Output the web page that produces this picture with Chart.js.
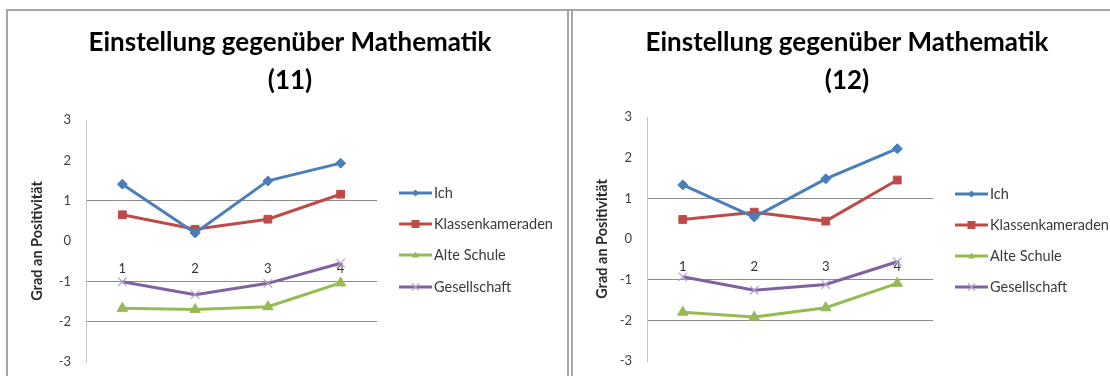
<!DOCTYPE html>
<html>
<head>
<meta charset="utf-8">
<script src="https://cdn.jsdelivr.net/npm/chart.js@4.4.1/dist/chart.umd.min.js"></script>
<style>
  html, body { margin: 0; padding: 0; background: #ffffff; }
  body { width: 1110px; height: 376px; position: relative; overflow: hidden; }
  .wrap { position: absolute; top: 0; height: 386px; }
  #w1 { left: 0; width: 568px; }
  #w2 { left: 568px; width: 542px; }
  .line { position: absolute; background: #a6a6a6; }
</style>
</head>
<body>
<div class="wrap" id="w1"><canvas id="c1" width="568" height="386"></canvas></div>
<div class="wrap" id="w2"><canvas id="c2" width="542" height="386"></canvas></div>
<div class="line" style="left:6px; top:9px; width:1104px; height:2px;"></div>
<div class="line" style="left:6px; top:9px; width:2px; height:367px;"></div>
<div class="line" style="left:567px; top:9px; width:2px; height:367px;"></div>
<div class="line" style="left:571px; top:9px; width:2px; height:367px;"></div>
<script>
// ---- data ----
const categories = ['1', '2', '3', '4'];
const seriesNames = ['Ich', 'Klassenkameraden', 'Alte Schule', 'Gesellschaft'];
const yTickValues = [-3, -2, -1, 0, 1, 2, 3];
const gridValues = [1, -1, -2];

const ich11 = [1.41, 0.20, 1.49, 1.93];
const klassen11 = [0.65, 0.29, 0.54, 1.16];
const alte11 = [-1.67, -1.70, -1.63, -1.04];
const gesell11 = [-1.01, -1.33, -1.05, -0.55];

const ich12 = [1.33, 0.54, 1.48, 2.22];
const klassen12 = [0.48, 0.66, 0.44, 1.45];
const alte12 = [-1.80, -1.92, -1.69, -1.09];
const gesell12 = [-0.93, -1.26, -1.12, -0.56];

const title1 = ['Einstellung gegenüber Mathematik', '(11)'];
const title2 = ['Einstellung gegenüber Mathematik', '(12)'];
const yTitle = 'Grad an Positivität';

// ---- styles ----
const FONT = 'Lato, "Open Sans", "DejaVu Sans", sans-serif';
const styles = [
  { color: '#4a7ebb', pointColor: '#4a7ebb', pointStyle: 'rectRot', radius: 5, pbw: 1 },
  { color: '#be4b48', pointColor: '#be4b48', pointStyle: 'rect', radius: 5.5, pbw: 1 },
  { color: '#98b954', pointColor: '#98b954', pointStyle: 'triangle', radius: 6, pbw: 1 },
  { color: '#7e62a1', pointColor: '#b4a3d0', pointStyle: 'crossRot', radius: 6, pbw: 1.2 }
];

function makeDatasets(arrs) {
  return arrs.map((d, i) => ({
    label: seriesNames[i],
    data: d,
    borderColor: styles[i].color,
    backgroundColor: styles[i].pointColor,
    pointBackgroundColor: styles[i].pointColor,
    pointBorderColor: styles[i].pointColor,
    pointBorderWidth: styles[i].pbw,
    pointStyle: styles[i].pointStyle,
    pointRadius: styles[i].radius,
    pointHoverRadius: styles[i].radius,
    borderWidth: 3,
    tension: 0,
    fill: false
  }));
}

function drawMarker(ctx, style, x, y, r, color) {
  ctx.save();
  ctx.fillStyle = color; ctx.strokeStyle = color; ctx.lineWidth = 1.2;
  ctx.beginPath();
  if (style === 'rectRot') {
    ctx.moveTo(x, y - r); ctx.lineTo(x + r, y); ctx.lineTo(x, y + r); ctx.lineTo(x - r, y); ctx.closePath(); ctx.fill();
  } else if (style === 'rect') {
    ctx.rect(x - r, y - r, 2 * r, 2 * r); ctx.fill();
  } else if (style === 'triangle') {
    ctx.moveTo(x, y - r); ctx.lineTo(x + r, y + r * 0.7); ctx.lineTo(x - r, y + r * 0.7); ctx.closePath(); ctx.fill();
  } else {
    ctx.moveTo(x - r, y - r); ctx.lineTo(x + r, y + r); ctx.moveTo(x + r, y - r); ctx.lineTo(x - r, y + r); ctx.stroke();
  }
  ctx.restore();
}

function decoPlugin(cfg) {
  return {
    id: 'deco' + cfg.id,
    afterDraw(chart) {
      const ctx = chart.ctx;
      ctx.save();
      // titles
      ctx.fillStyle = '#000000';
      ctx.textAlign = 'center';
      ctx.textBaseline = 'alphabetic';
      ctx.font = 'bold 26px ' + FONT;
      ctx.fillText(cfg.title[0], cfg.titleX, 51);
      ctx.fillText(cfg.title[1], cfg.titleX, 89);
      // legend
      ctx.font = '14.5px ' + FONT;
      ctx.textAlign = 'left';
      ctx.textBaseline = 'middle';
      chart.data.datasets.forEach((ds, i) => {
        const y = cfg.legendY[i];
        ctx.strokeStyle = styles[i].color;
        ctx.lineWidth = 3;
        ctx.beginPath();
        ctx.moveTo(cfg.legendX, y);
        ctx.lineTo(cfg.legendX + 33, y);
        ctx.stroke();
        drawMarker(ctx, styles[i].pointStyle, cfg.legendX + 16.5, y, i === 1 ? 4 : 3.5, styles[i].pointColor);
        ctx.fillStyle = '#3a3a3a';
        ctx.fillText(ds.label, cfg.legendX + 35, y);
      });
      ctx.restore();
    }
  };
}

function makeChart(canvasId, arrs, cfg) {
  return new Chart(document.getElementById(canvasId), {
    type: 'line',
    data: { labels: categories, datasets: makeDatasets(arrs) },
    options: {
      responsive: false,
      animation: false,
      devicePixelRatio: 1,
      layout: { padding: { left: 0, top: cfg.top, right: cfg.padRight, bottom: cfg.padBottom } },
      plugins: { legend: { display: false }, title: { display: false }, tooltip: { enabled: false } },
      scales: {
        x: {
          type: 'category',
          position: { y: -0.5 },
          offset: true,
          afterFit(scale) { scale.height = 0; },
          grid: { display: false, drawTicks: false },
          border: { display: false },
          ticks: { padding: 0, color: '#333333', font: { family: FONT, size: 13 } }
        },
        y: {
          type: 'linear',
          position: 'left',
          min: -3, max: 3,
          afterBuildTicks(scale) { scale.ticks = yTickValues.map(v => ({ value: v })); },
          afterFit(scale) { scale.width = cfg.axisWidth; },
          grid: {
            drawTicks: false,
            lineWidth: 1,
            color: (c) => (c.tick && gridValues.includes(c.tick.value)) ? '#8c8c8c' : 'rgba(0,0,0,0)'
          },
          border: { display: true, color: '#c4c4c4', width: 1 },
          ticks: { padding: 15, color: '#404040', font: { family: FONT, size: 13 } },
          title: {
            display: true, text: yTitle, color: '#2a2a2a',
            font: { family: FONT, size: 14.5, weight: 'bold' },
            padding: { top: cfg.titlePad, bottom: 0 }
          }
        }
      }
    },
    plugins: [decoPlugin(cfg)]
  });
}

makeChart('c1', [ich11, klassen11, alte11, gesell11], {
  id: 1, top: 120, padRight: 191, padBottom: 24, axisWidth: 86, titlePad: 29,
  title: title1, titleX: 290, legendX: 399, legendY: [193, 224, 255, 287]
});
makeChart('c2', [ich12, klassen12, alte12, gesell12], {
  id: 2, top: 117, padRight: 177, padBottom: 25, axisWidth: 79, titlePad: 26,
  title: title2, titleX: 279, legendX: 387, legendY: [194, 225, 256, 287]
});
</script>
</body>
</html>
